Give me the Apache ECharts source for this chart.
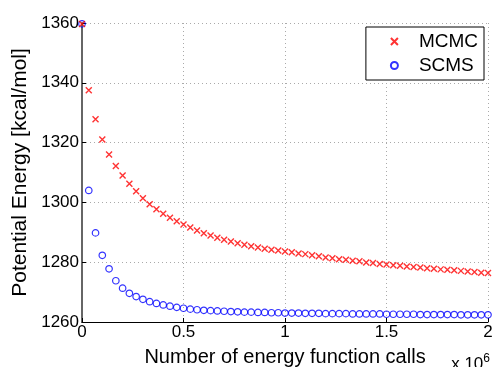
<!DOCTYPE html>
<html>
<head>
<meta charset="utf-8">
<script src="https://cdn.jsdelivr.net/npm/echarts@6/dist/echarts.min.js"></script>
<style>
  html, body { margin: 0; padding: 0; background: #fff; }
  #chart { width: 493px; height: 367px; }
</style>
</head>
<body>
<div id="chart"></div>
<script>
// x in units of 1e6 energy function calls, one sample every 1/30
const xSteps = 60;
const xMax = 2;
const yTicks = [1260, 1280, 1300, 1320, 1340, 1360];
const xTicks = [0, 0.5, 1, 1.5, 2];

const mcmc = [
  1359.7, 1337.5, 1327.8, 1321.0, 1316.0, 1312.2, 1309.0, 1306.2, 1303.7, 1301.4,
  1299.4, 1297.7, 1296.2, 1294.9, 1293.7, 1292.6, 1291.6, 1290.6, 1289.7, 1288.9,
  1288.2, 1287.5, 1286.9, 1286.3, 1285.8, 1285.3, 1284.9, 1284.5, 1284.2, 1283.9,
  1283.6, 1283.3, 1282.9, 1282.7, 1282.3, 1282.0, 1281.6, 1281.3, 1281.0, 1280.8,
  1280.5, 1280.3, 1279.9, 1279.7, 1279.4, 1279.2, 1279.0, 1278.8, 1278.6, 1278.4,
  1278.2, 1278.0, 1277.8, 1277.6, 1277.5, 1277.3, 1277.1, 1276.9, 1276.7, 1276.5,
  1276.4
];
const scms = [
  1359.7, 1304.0, 1289.8, 1282.3, 1277.8, 1273.8, 1271.3, 1269.6, 1268.5, 1267.6,
  1266.8, 1266.2, 1265.7, 1265.3, 1264.9, 1264.6, 1264.3, 1264.1, 1263.9, 1263.8,
  1263.7, 1263.6, 1263.5, 1263.4, 1263.3, 1263.3, 1263.2, 1263.2, 1263.1, 1263.1,
  1263.0, 1263.0, 1263.0, 1262.9, 1262.9, 1262.9, 1262.8, 1262.8, 1262.8, 1262.8,
  1262.7, 1262.7, 1262.7, 1262.7, 1262.7, 1262.6, 1262.6, 1262.6, 1262.6, 1262.6,
  1262.5, 1262.5, 1262.5, 1262.5, 1262.5, 1262.5, 1262.4, 1262.4, 1262.4, 1262.4,
  1262.4
];

const pairs = arr => arr.map((v, i) => [i * xMax / xSteps, v]);
const font = 'Liberation Sans, Arial, Helvetica, sans-serif';
const crossPath = 'path://M0,0L10,10M10,0L0,10';

let chart = echarts.init(document.getElementById('chart'), null, { renderer: 'canvas' });
chart.setOption({
  animation: false,
  backgroundColor: '#fff',
  textStyle: { fontFamily: font },
  grid: { left: 82, right: 5, top: 23, bottom: 45, containLabel: false, outerBoundsMode: 'none' },
  xAxis: {
    type: 'value',
    min: 0, max: 2, interval: 0.5,
    name: 'Number of energy function calls',
    nameLocation: 'middle',
    nameGap: 25,
    nameTextStyle: { fontSize: 20, color: '#000', fontFamily: font },
    axisLine: { lineStyle: { color: '#000', width: 1 } },
    axisTick: { inside: true, length: 4, lineStyle: { color: '#000' } },
    axisLabel: {
      fontSize: 17, color: '#000', margin: 2, fontFamily: font,
      formatter: v => xTicks.includes(v) ? String(v) : ''
    },
    splitLine: { show: true, lineStyle: { color: '#aaa', type: [1, 3], width: 1 } }
  },
  yAxis: {
    type: 'value',
    min: 1260, max: 1360, interval: 20,
    name: 'Potential Energy [kcal/mol]',
    nameLocation: 'middle',
    nameGap: 45,
    nameTextStyle: { fontSize: 21, color: '#000', fontFamily: font },
    axisLine: { lineStyle: { color: '#666', width: 2 } },
    axisTick: { inside: true, length: 4, lineStyle: { color: '#000' } },
    axisLabel: {
      fontSize: 17, color: '#000', margin: 3, fontFamily: font,
      formatter: v => yTicks.includes(v) ? String(v) : ''
    },
    splitLine: { show: true, lineStyle: { color: '#aaa', type: [1, 3], width: 1 } }
  },
  legend: {
    right: 9, top: 27,
    orient: 'vertical',
    backgroundColor: '#fff',
    borderColor: '#000',
    borderWidth: 1,
    borderRadius: 0,
    padding: [5, 6, 5, 24],
    itemGap: 5,
    itemWidth: 7, itemHeight: 7,
    textStyle: { fontSize: 19, color: '#000', fontFamily: font, padding: [0, 0, 0, 16] },
    data: ['MCMC', 'SCMS']
  },
  graphic: [{
    type: 'text',
    right: 3, bottom: -6,
    style: {
      text: 'x 10{s|6}',
      font: '17px ' + font,
      fill: '#000',
      rich: { s: { fontSize: 12, verticalAlign: 'top', padding: [0, 0, 12, 0] } }
    }
  }],
  series: [
    {
      name: 'SCMS',
      type: 'scatter',
      symbol: 'circle',
      symbolSize: 6.5,
      itemStyle: { color: 'rgba(0,0,0,0)', borderColor: '#0000ff', borderWidth: 1.2 },
      data: pairs(scms),
      z: 2
    },
    {
      name: 'MCMC',
      type: 'scatter',
      symbol: crossPath,
      symbolSize: 6,
      itemStyle: { color: 'rgba(0,0,0,0)', borderColor: '#ff0000', borderWidth: 1.4 },
      data: pairs(mcmc),
      z: 3
    }
  ]
});
</script>
</body>
</html>
